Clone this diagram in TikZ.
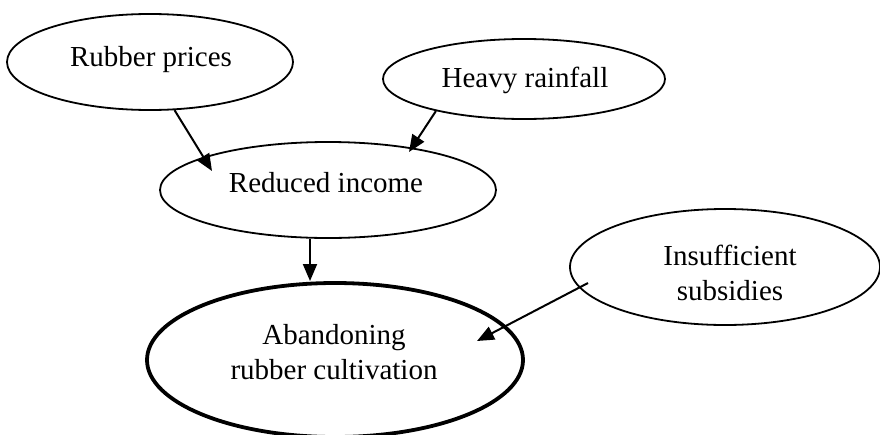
\documentclass[tikz,border=0pt]{standalone}
\usepackage{fontspec}
\setmainfont{Liberation Serif}
\usetikzlibrary{shapes.geometric,arrows.meta}
\tikzset{
  ell/.style={ellipse, draw, line width=1.8pt, inner sep=0pt},
  bigell/.style={ellipse, draw, line width=3.8pt, inner sep=0pt},
  txt/.style={font=\fontsize{29}{35}\selectfont, align=center, inner sep=0pt},
  arr/.style={line width=2pt, -{Triangle[length=17pt,width=14pt]}},
}
\begin{document}
\begin{tikzpicture}[x=1pt,y=-1pt]
\useasboundingbox (0,0) rectangle (880,434);
% ellipses
\node[ell, minimum width=286pt, minimum height=96pt] (rubber) at (150,62) {};
\node[ell, minimum width=282pt, minimum height=80pt] (rain) at (524,79) {};
\node[ell, minimum width=336pt, minimum height=96pt] (income) at (328,190) {};
\node[ell, minimum width=310pt, minimum height=116pt] (subs) at (725,267) {};
\node[bigell, minimum width=376pt, minimum height=154pt] (aband) at (335,360) {};
% texts
\node[txt] (trubber) at (151,60) {Rubber prices};
\node[txt] (train) at (525,80) {Heavy rainfall};
\node[txt] (tincome) at (326,183) {Reduced income};
\node[txt] (tsubs) at (730,273) {Insufficient\\subsidies};
\node[txt] (taband) at (334,352) {Abandoning\\rubber cultivation};
% arrow end points
\coordinate (e1) at (212,171);
\coordinate (e2) at (409,152);
\coordinate (e3) at (310,281);
\coordinate (s4) at (588,283);
\coordinate (e4) at (477,341);
% connectors
\draw[arr] (rubber.-63) -- (e1);
\draw[arr] (rain.200) -- (e2);
\draw[arr] (e3 |- income.south) -- (e3);
\draw[arr] (s4) -- (e4);
\end{tikzpicture}
\end{document}
